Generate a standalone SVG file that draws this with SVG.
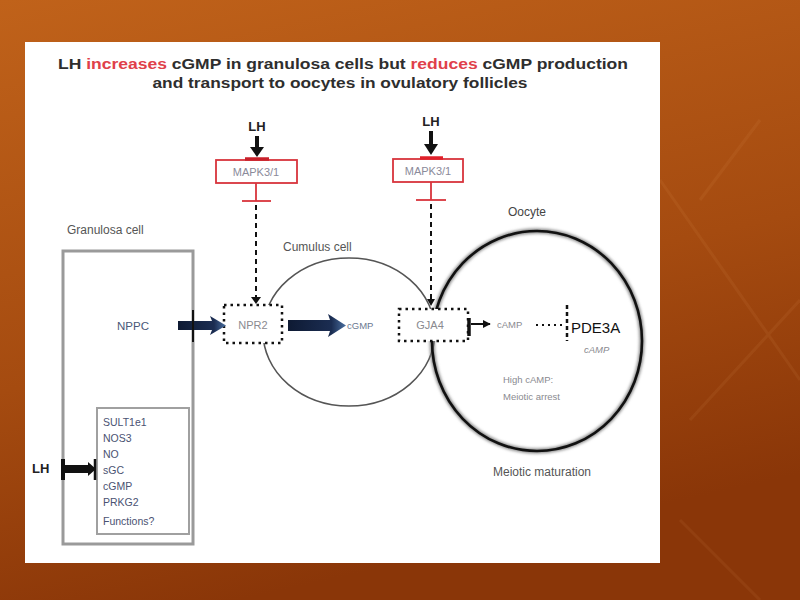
<svg xmlns="http://www.w3.org/2000/svg" width="800" height="600" viewBox="0 0 800 600">
<defs>
<linearGradient id="bg" x1="0" y1="0" x2="0.3" y2="1">
<stop offset="0" stop-color="#c0621a"/>
<stop offset="0.6" stop-color="#a54b10"/>
<stop offset="1" stop-color="#8a3608"/>
</linearGradient>
<linearGradient id="navy" x1="0" y1="0" x2="1" y2="0">
<stop offset="0" stop-color="#0e1a33"/>
<stop offset="0.75" stop-color="#1b2d52"/>
<stop offset="1" stop-color="#4a6fa0"/>
</linearGradient>
<filter id="soft" x="-10%" y="-10%" width="120%" height="120%"><feGaussianBlur stdDeviation="1.5"/></filter>
<marker id="ah" viewBox="0 0 10 10" refX="9" refY="5" markerWidth="4" markerHeight="4" orient="auto"><path d="M0,0 L10,5 L0,10 z" fill="#111"/></marker>
<style>
text{font-family:"Liberation Sans",Arial,sans-serif}
.title{font-size:14.5px;font-weight:bold;fill:#2e2e2e}
.red{fill:#e0404a}
.lbl{font-size:12px;fill:#555}
.lh{font-size:13px;font-weight:bold;fill:#222}
.mapk{font-size:11px;fill:#8a8a9a}
.gray{font-size:11px;fill:#8a8a90}
.tiny{font-size:9.5px;fill:#8a8a90}
.list{font-size:10.5px;fill:#4a5272}
.dash{stroke:#111;stroke-width:2;stroke-dasharray:5 4;fill:none}
.dot{stroke:#111;stroke-width:2.5;stroke-dasharray:2.5 4;fill:#fff}
.redbox{fill:#fff;stroke:#d8343c;stroke-width:1.8}
.redl{stroke:#d8343c;stroke-width:1.8;fill:none}
</style>
</defs>
<rect width="800" height="600" fill="url(#bg)"/>
<g opacity="0.08" fill="none" stroke="#f3b070" stroke-width="3">
<path d="M660 180 L800 380"/><path d="M700 200 L760 120"/><path d="M690 420 L800 300"/>
<path d="M680 520 L760 600"/>
</g>
<rect x="25" y="42" width="635" height="521" fill="#fff"/>

<g id="title">
<text class="title" x="343" y="69" text-anchor="middle" textLength="570" lengthAdjust="spacingAndGlyphs">LH <tspan class="red">increases</tspan> cGMP in granulosa cells but <tspan class="red">reduces</tspan> cGMP production</text>
<text class="title" x="340" y="88" text-anchor="middle" textLength="375" lengthAdjust="spacingAndGlyphs">and transport to oocytes in ovulatory follicles</text>
</g>

<g id="granulosa">
<rect x="63" y="251" width="130" height="293" fill="#fff" stroke="#9a9a9a" stroke-width="3"/>
<text class="lbl" x="67" y="234">Granulosa cell</text>
<text class="gray" x="133" y="330" text-anchor="middle" style="fill:#4a5878;font-size:11.5px">NPPC</text>
</g>

<g id="list">
<rect x="97" y="408" width="92" height="126" fill="#fff" stroke="#a0a0a0" stroke-width="2"/>
<text class="list" x="103" y="426">SULT1e1</text>
<text class="list" x="103" y="442">NOS3</text>
<text class="list" x="103" y="458">NO</text>
<text class="list" x="103" y="474">sGC</text>
<text class="list" x="103" y="490">cGMP</text>
<text class="list" x="103" y="506">PRKG2</text>
<text class="list" x="103" y="525">Functions?</text>
</g>

<g id="lh-left">
<text class="lh" x="32" y="473">LH</text>
</g>

<g id="cumulus">
<ellipse cx="349" cy="332" rx="86" ry="74" fill="none" stroke="#555" stroke-width="1.6"/>
<text class="lbl" x="283" y="251">Cumulus cell</text>
</g>

<g id="oocyte">
<ellipse cx="537" cy="341" rx="105" ry="110" fill="none" stroke="#888" stroke-width="5" filter="url(#soft)"/>
<ellipse cx="537" cy="341" rx="105" ry="110" fill="none" stroke="#111" stroke-width="2.6"/>
<text class="lbl" x="527" y="216" text-anchor="middle" style="fill:#444">Oocyte</text>
<text class="tiny" x="503" y="383">High cAMP:</text>
<text class="tiny" x="503" y="400">Meiotic arrest</text>
<text class="lbl" x="542" y="476" text-anchor="middle">Meiotic maturation</text>
</g>

<g id="npr2">
<rect x="224" y="305" width="58" height="38" class="dot"/>
<text class="gray" x="253" y="329" text-anchor="middle">NPR2</text>
</g>

<g id="gja4">
<rect x="399" y="309" width="69" height="32" class="dot"/>
<text class="gray" x="430" y="329" text-anchor="middle">GJA4</text>
</g>

<g id="mapk1">
<text class="lh" x="257" y="131" text-anchor="middle">LH</text>
<rect x="216" y="160" width="81" height="23" class="redbox"/>
<text class="mapk" x="256" y="176" text-anchor="middle">MAPK3/1</text>
</g>

<g id="mapk2">
<text class="lh" x="431" y="126" text-anchor="middle">LH</text>
<rect x="393" y="159" width="70" height="23" class="redbox"/>
<text class="mapk" x="428" y="175" text-anchor="middle">MAPK3/1</text>
</g>

<g id="camp">
<text class="tiny" x="497" y="328">cAMP</text>
<text x="571" y="333" style="font-size:15px;fill:#111">PDE3A</text>
<text class="tiny" x="584" y="353" style="font-style:italic">cAMP</text>
</g>

<g id="connectors">
<line x1="257" y1="136" x2="257" y2="148" stroke="#111" stroke-width="4"/>
<polygon points="250,147 264,147 257,157" fill="#111"/>
<line x1="245" y1="159" x2="269" y2="159" stroke="#c8202a" stroke-width="3.5"/>
<line x1="431" y1="131" x2="431" y2="145" stroke="#111" stroke-width="4"/>
<polygon points="424,144 438,144 431,155" fill="#111"/>
<line x1="420" y1="158" x2="443" y2="158" stroke="#e0202a" stroke-width="3.5"/>
<line class="redl" x1="256" y1="183" x2="256" y2="201"/>
<line class="redl" x1="242" y1="201" x2="271" y2="201"/>
<line class="redl" x1="431" y1="182" x2="431" y2="200"/>
<line class="redl" x1="416" y1="200" x2="446" y2="200"/>
<line class="dash" x1="256" y1="205" x2="256" y2="298"/>
<polygon points="251,297 261,297 256,304" fill="#111"/>
<line class="dash" x1="431" y1="204" x2="431" y2="300"/>
<polygon points="427,299 435,299 431,306" fill="#111"/>
<polygon points="178,321 212,321 210,316 226,325.5 210,335 212,330 178,330" fill="url(#navy)"/>
<line x1="193" y1="310" x2="193" y2="342" stroke="#111" stroke-width="2"/>
<polygon points="288,320 330,320 328,314 346,325.5 328,337 330,331 288,331" fill="url(#navy)"/>
<text class="tiny" x="347" y="329" style="fill:#6a7890">cGMP</text>
<line x1="469" y1="318" x2="469" y2="336" stroke="#111" stroke-width="3.5"/>
<line x1="471" y1="324" x2="490" y2="324" stroke="#111" stroke-width="2" marker-end="url(#ah)"/>
<line x1="536" y1="325" x2="563" y2="325" stroke="#111" stroke-width="2" stroke-dasharray="2 4"/>
<line x1="567" y1="305" x2="567" y2="341" stroke="#111" stroke-width="2.5" stroke-dasharray="4 3"/>
<line x1="63" y1="459" x2="63" y2="480" stroke="#111" stroke-width="4"/>
<rect x="64" y="465" width="25" height="8" fill="#111"/>
<polygon points="88,462 96,469 88,476" fill="#111"/>
<line x1="95" y1="459" x2="95" y2="480" stroke="#111" stroke-width="2.5"/>
</g>
</svg>
